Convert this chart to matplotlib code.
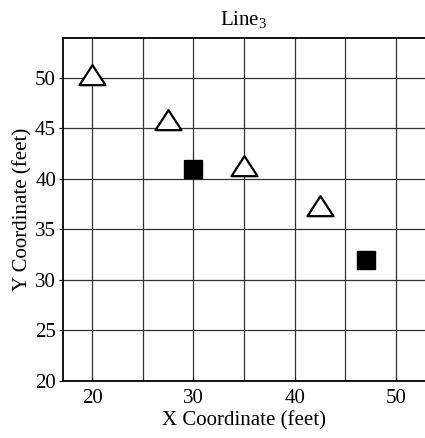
import matplotlib
matplotlib.use("Agg")
import matplotlib.pyplot as plt
from matplotlib.path import Path

# data
tri_x = [20, 27.5, 35, 42.5]
tri_y = [50, 45.5, 41, 37]
sq_x = [30, 47]
sq_y = [41, 32]
x_ticks = [20, 30, 40, 50]
y_ticks = [20, 25, 30, 35, 40, 45, 50]
grid_x = [20, 25, 30, 35, 40, 45, 50]

plt.rcParams['font.family'] = ['Liberation Serif', 'DejaVu Serif']
plt.rcParams['mathtext.fontset'] = 'custom'
plt.rcParams['mathtext.rm'] = 'Liberation Serif'

FS = 15

fig = plt.figure(figsize=(4.25, 4.38), dpi=100)
ax = fig.add_axes([63/425, 1-381/438, 1-63/425, (381-38)/438])

tri = Path([(-1.3, -2/3), (1.3, -2/3), (0, 4/3), (-1.3, -2/3)],
           [Path.MOVETO, Path.LINETO, Path.LINETO, Path.CLOSEPOLY])

ax.set_xlim(17.13, 52.87)
ax.set_ylim(20, 53.96)

for gx in grid_x:
    ax.axvline(gx, color='#333333', lw=0.9, zorder=1)
for gy in y_ticks:
    ax.axhline(gy, color='#333333', lw=0.9, zorder=1)

ax.plot(tri_x, tri_y, linestyle='none', marker=tri, markersize=19.2,
        markerfacecolor='white', markeredgecolor='black', markeredgewidth=1.6, zorder=3)
ax.plot(sq_x, sq_y, linestyle='none', marker='s', markersize=12.5,
        markerfacecolor='black', markeredgecolor='black', zorder=3)

ax.set_xticks(x_ticks)
ax.set_yticks(y_ticks)
ax.tick_params(axis='x', direction='in', length=3, labelsize=FS, pad=6)
ax.tick_params(axis='y', direction='out', length=3, labelsize=FS, pad=2)
ax.spines['right'].set_visible(False)
for s in ['left', 'bottom', 'top']:
    ax.spines[s].set_linewidth(1.3)

ax.set_xlabel('X Coordinate (feet)', fontsize=FS, labelpad=2)
ax.set_ylabel('Y Coordinate (feet)', fontsize=FS, labelpad=2)
ax.set_title(r'$\mathrm{Line}_3$', fontsize=FS, pad=9)

fig.savefig('out.png', dpi=100)
